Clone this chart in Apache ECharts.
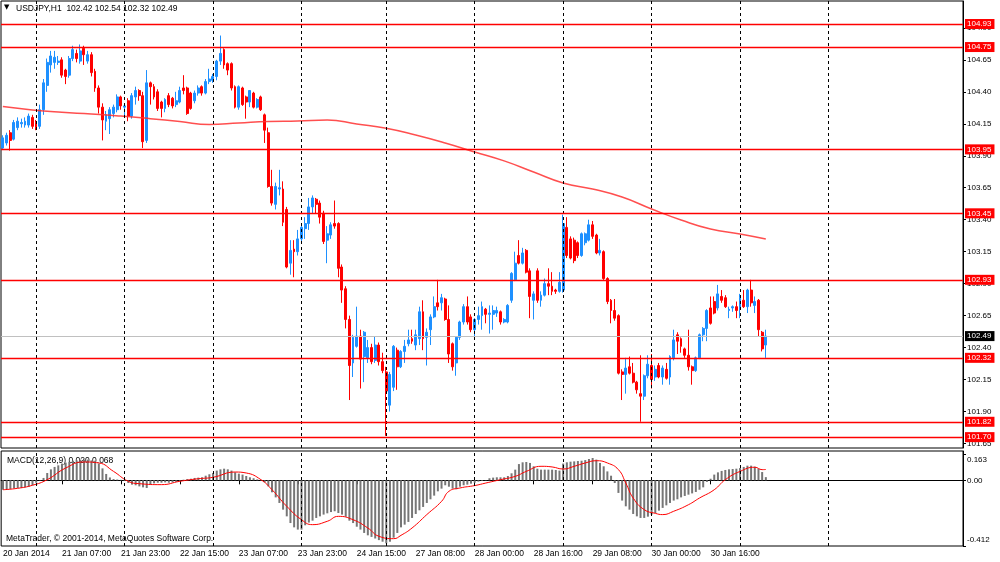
<!DOCTYPE html>
<html>
<head>
<meta charset="utf-8">
<script src="https://cdn.jsdelivr.net/npm/echarts@6/dist/echarts.min.js"></script>
<style>
html, body { margin: 0; padding: 0; background: #fff; }
#main { width: 1000px; height: 562px; }
</style>
</head>
<body>
<div id="main"></div>
<script>
// USDJPY H1 – bars from 20 Jan 15:00 to 31 Jan 07:00
var tickLabels = ['20 Jan 2014', '21 Jan 07:00', '21 Jan 23:00', '22 Jan 15:00', '23 Jan 07:00',
  '23 Jan 23:00', '24 Jan 15:00', '27 Jan 08:00', '28 Jan 00:00', '28 Jan 16:00',
  '29 Jan 08:00', '30 Jan 00:00', '30 Jan 16:00'];
var labelStep = 16;        // one time label every 16 bars
var dayStarts = [9, 33, 57, 81, 104, 128, 152, 176, 200, 224];   // bar index of 00:00 each day
var futureBars = 53;       // empty space right of the last bar

var levels = [104.93, 104.75, 103.95, 103.45, 102.93, 102.32, 101.82, 101.70];
var lastPrice = 102.49;
var priceTicks = [101.65, 101.90, 102.15, 102.40, 102.65, 102.90, 103.15, 103.40, 103.65, 103.90, 104.15, 104.40, 104.65, 104.90];
var macdTicks = [0.163, 0, -0.412];
var macdTickText = ['0.163', '0.00', '-0.412'];

var opens = [
  103.96,104.00,104.08,104.03,104.12,104.15,104.14,104.14,104.20,104.16,
  104.13,104.26,104.45,104.61,104.63,104.63,104.65,104.57,104.53,104.66,
  104.70,104.64,104.74,104.64,104.69,104.56,104.43,104.28,104.17,104.19,
  104.23,104.26,104.36,104.28,104.33,104.21,104.36,104.41,104.37,104.02,
  104.47,104.44,104.40,104.32,104.27,104.37,104.35,104.30,104.32,104.43,
  104.43,104.39,104.33,104.39,104.44,104.39,104.48,104.49,104.52,104.64,
  104.73,104.62,104.62,104.44,104.28,104.43,104.36,104.32,104.39,104.28,
  104.36,104.22,104.08,103.66,103.52,103.64,103.64,103.48,103.06,103.17,
  103.15,103.25,103.33,103.37,103.50,103.56,103.53,103.45,103.24,103.28,
  103.37,103.37,103.03,102.86,102.62,102.28,102.41,102.49,102.33,102.32,
  102.40,102.30,102.42,102.29,102.21,101.95,102.09,102.38,102.25,102.37,
  102.43,102.47,102.42,102.47,102.68,102.48,102.54,102.64,102.75,102.75,
  102.78,102.62,102.43,102.28,102.48,102.60,102.72,102.64,102.54,102.62,
  102.65,102.70,102.66,102.66,102.67,102.68,102.60,102.60,102.77,102.93,
  103.12,103.06,103.16,103.00,102.77,103.00,102.77,102.81,102.90,102.88,
  102.85,102.84,102.85,103.34,103.25,103.24,103.22,103.12,103.22,103.24,
  103.36,103.28,103.14,103.15,102.94,102.77,102.69,102.65,102.21,102.19,
  102.25,102.20,102.13,102.04,102.02,102.18,102.26,102.17,102.26,102.17,
  102.23,102.17,102.32,102.50,102.47,102.39,102.34,102.25,102.22,102.32,
  102.50,102.55,102.71,102.76,102.71,102.80,102.79,102.69,102.71,102.72,
  102.71,102.77,102.72,102.85,102.73,102.77,102.52,102.42
];
var highs = [
  104.06,104.08,104.10,104.18,104.20,104.19,104.20,104.23,104.22,104.18,
  104.30,104.50,104.66,104.72,104.72,104.68,104.67,104.58,104.68,104.76,
  104.73,104.77,104.76,104.72,104.71,104.58,104.45,104.31,104.25,104.28,
  104.30,104.38,104.37,104.31,104.35,104.39,104.44,104.42,104.40,104.57,
  104.48,104.46,104.42,104.33,104.35,104.39,104.36,104.40,104.44,104.53,
  104.44,104.40,104.41,104.45,104.45,104.50,104.58,104.54,104.65,104.84,
  104.74,104.63,104.63,104.45,104.45,104.44,104.37,104.41,104.40,104.35,
  104.37,104.23,104.12,103.79,103.69,103.79,103.70,103.50,103.24,103.24,
  103.32,103.37,103.42,103.57,103.59,103.57,103.55,103.47,103.35,103.38,
  103.55,103.38,103.05,102.88,102.65,102.50,102.72,102.54,102.53,102.46,
  102.43,102.49,102.44,102.36,102.25,102.21,102.42,102.40,102.38,102.46,
  102.54,102.54,102.54,102.72,102.77,102.55,102.66,102.80,102.93,102.82,
  102.79,102.73,102.44,102.49,102.61,102.74,102.80,102.66,102.63,102.72,
  102.76,102.71,102.73,102.73,102.72,102.69,102.63,102.74,102.99,103.15,
  103.24,103.18,103.17,103.02,102.84,103.02,102.84,102.94,103.02,102.99,
  102.86,102.99,103.44,103.42,103.27,103.26,103.23,103.30,103.30,103.40,
  103.39,103.29,103.25,103.16,102.95,102.78,102.78,102.66,102.23,102.32,
  102.33,102.28,102.14,102.34,102.19,102.34,102.35,102.26,102.28,102.26,
  102.28,102.34,102.54,102.52,102.48,102.40,102.54,102.26,102.33,102.51,
  102.56,102.70,102.80,102.80,102.89,102.85,102.81,102.72,102.73,102.76,
  102.82,102.85,102.86,102.93,102.80,102.78,102.53,102.54
];
var lows = [
  103.95,103.98,103.94,104.02,104.10,104.12,104.12,104.12,104.11,104.10,
  104.11,104.22,104.40,104.55,104.58,104.61,104.51,104.46,104.51,104.64,
  104.63,104.62,104.61,104.62,104.52,104.40,104.23,104.02,104.10,104.07,
  104.20,104.24,104.26,104.21,104.17,104.19,104.30,104.33,103.96,104.00,
  104.30,104.34,104.25,104.20,104.24,104.28,104.27,104.28,104.31,104.38,
  104.22,104.26,104.31,104.37,104.37,104.38,104.46,104.47,104.49,104.61,
  104.58,104.53,104.41,104.27,104.26,104.29,104.19,104.28,104.27,104.27,
  104.25,104.00,103.65,103.51,103.48,103.59,103.35,103.02,102.97,102.95,
  103.12,103.22,103.25,103.32,103.45,103.45,103.37,103.21,103.06,103.25,
  103.33,102.95,102.75,102.55,101.99,102.17,102.40,102.08,102.13,102.28,
  102.27,102.28,102.26,102.20,101.71,101.90,102.06,102.07,102.24,102.28,
  102.41,102.43,102.38,102.42,102.38,102.26,102.42,102.63,102.69,102.69,
  102.61,102.28,102.22,102.18,102.46,102.58,102.58,102.52,102.47,102.58,
  102.54,102.59,102.51,102.54,102.64,102.58,102.59,102.59,102.75,102.92,
  103.05,103.05,102.98,102.63,102.62,102.75,102.72,102.80,102.81,102.81,
  102.82,102.83,102.83,103.10,103.09,103.06,103.10,103.11,103.20,103.23,
  103.25,103.13,103.12,102.93,102.74,102.59,102.61,102.19,101.99,102.04,
  102.19,102.12,102.04,101.82,101.99,102.16,102.08,102.14,102.16,102.11,
  102.15,102.11,102.30,102.35,102.36,102.32,102.22,102.11,102.21,102.31,
  102.45,102.45,102.58,102.66,102.69,102.75,102.71,102.63,102.68,102.63,
  102.63,102.71,102.67,102.72,102.67,102.49,102.37,102.32
];
var closes = [
  104.04,104.06,104.02,104.16,104.17,104.16,104.17,104.21,104.13,104.12,
  104.26,104.47,104.63,104.68,104.67,104.64,104.53,104.52,104.66,104.73,
  104.66,104.72,104.69,104.69,104.55,104.43,104.28,104.18,104.22,104.26,
  104.28,104.36,104.29,104.29,104.21,104.37,104.41,104.37,104.01,104.47,
  104.44,104.36,104.27,104.27,104.34,104.30,104.29,104.33,104.41,104.41,
  104.23,104.27,104.39,104.43,104.39,104.48,104.50,104.52,104.64,104.70,
  104.61,104.57,104.43,104.28,104.44,104.30,104.32,104.41,104.28,104.34,
  104.26,104.10,103.66,103.53,103.66,103.65,103.38,103.03,103.16,103.15,
  103.25,103.34,103.37,103.50,103.57,103.52,103.42,103.23,103.29,103.36,
  103.35,103.02,102.85,102.62,102.26,102.48,102.49,102.31,102.52,102.40,
  102.29,102.42,102.29,102.22,102.06,102.19,102.41,102.25,102.37,102.41,
  102.46,102.45,102.50,102.68,102.47,102.52,102.64,102.72,102.72,102.79,
  102.62,102.35,102.25,102.48,102.60,102.72,102.60,102.54,102.62,102.65,
  102.72,102.66,102.67,102.69,102.69,102.60,102.62,102.73,102.98,103.06,
  103.06,103.14,102.99,102.80,102.82,102.77,102.81,102.90,102.88,102.84,
  102.84,102.91,103.37,103.12,103.10,103.08,103.12,103.29,103.29,103.36,
  103.27,103.14,103.16,102.94,102.76,102.69,102.63,102.20,102.19,102.24,
  102.20,102.13,102.07,102.02,102.18,102.27,102.15,102.23,102.17,102.24,
  102.16,102.33,102.46,102.45,102.41,102.34,102.25,102.22,102.32,102.50,
  102.55,102.69,102.59,102.67,102.82,102.77,102.72,102.70,102.72,102.69,
  102.79,102.72,102.85,102.75,102.76,102.54,102.39,102.49
];

// moving average, read every 8 bars: [bar, price]
var maPoints = [[0,104.285],[8,104.258],[16,104.24],[24,104.227],[32,104.21],[40,104.19],[48,104.168],
  [56,104.144],[64,104.156],[72,104.168],[80,104.172],[88,104.18],[96,104.148],[104,104.115],
  [112,104.062],[120,104.0],[128,103.93],[136,103.86],[144,103.773],[152,103.687],[160,103.64],
  [168,103.577],[176,103.484],[184,103.398],[192,103.327],[200,103.288],[207,103.249]];

// MACD(12,26,9) histogram, one value per bar
var macdHist = [
  -0.059,-0.059,-0.054,-0.050,-0.048,-0.048,-0.044,-0.040,-0.031,-0.015,
  -0.002,0.015,0.046,0.069,0.084,0.094,0.105,0.111,0.117,0.123,
  0.125,0.130,0.130,0.130,0.125,0.123,0.105,0.075,0.040,0.018,
  0.008,0.005,0.003,-0.004,-0.017,-0.027,-0.031,-0.038,-0.044,-0.048,
  -0.027,-0.019,-0.015,-0.015,-0.013,-0.015,-0.013,-0.010,-0.004,0.004,
  0.008,0.010,0.015,0.017,0.019,0.029,0.038,0.046,0.061,0.069,
  0.073,0.069,0.061,0.050,0.042,0.036,0.027,0.019,0.013,0.006,
  0.002,-0.013,-0.038,-0.075,-0.107,-0.142,-0.184,-0.226,-0.268,-0.295,
  -0.309,-0.309,-0.282,-0.265,-0.253,-0.236,-0.226,-0.215,-0.207,-0.199,
  -0.194,-0.205,-0.215,-0.228,-0.253,-0.268,-0.291,-0.309,-0.330,-0.345,
  -0.355,-0.365,-0.375,-0.385,-0.395,-0.385,-0.360,-0.330,-0.295,-0.278,
  -0.261,-0.236,-0.211,-0.188,-0.167,-0.142,-0.119,-0.096,-0.069,-0.052,
  -0.031,-0.040,-0.052,-0.056,-0.040,-0.031,-0.027,-0.021,-0.015,-0.008,
  -0.004,0.002,0.013,0.017,0.019,0.019,0.019,0.027,0.044,0.067,
  0.102,0.113,0.115,0.109,0.088,0.073,0.067,0.067,0.067,0.067,
  0.065,0.061,0.105,0.113,0.117,0.119,0.121,0.123,0.127,0.134,
  0.140,0.130,0.109,0.088,0.056,0.029,-0.017,-0.079,-0.127,-0.163,
  -0.184,-0.211,-0.226,-0.236,-0.236,-0.228,-0.215,-0.205,-0.190,-0.173,
  -0.157,-0.142,-0.127,-0.119,-0.107,-0.098,-0.090,-0.082,-0.073,-0.059,
  -0.044,-0.010,0.010,0.036,0.050,0.059,0.065,0.069,0.071,0.073,
  0.077,0.084,0.092,0.092,0.086,0.073,0.052,0.020
];
// signal line, read at a few bars: [bar, value]
var macdSignal = [[0,-0.059],[4,-0.050],[8,-0.031],[12,0.004],[17,0.077],[22,0.115],[26,0.109],
  [30,0.056],[34,-0.006],[37,-0.021],[43,-0.027],[48,-0.006],[53,0.010],[57,0.019],[63,0.052],
  [66,0.046],[70,0.004],[73,-0.059],[77,-0.163],[81,-0.247],[84,-0.278],[88,-0.257],[91,-0.226],
  [95,-0.247],[99,-0.299],[102,-0.351],[106,-0.366],[108,-0.345],[111,-0.299],[115,-0.215],
  [119,-0.132],[121,-0.069],[124,-0.048],[128,-0.033],[131,-0.017],[135,0.004],[139,0.025],
  [142,0.056],[146,0.088],[149,0.084],[152,0.071],[155,0.088],[158,0.109],[161,0.123],[164,0.109],
  [167,0.067],[169,-0.017],[171,-0.111],[174,-0.184],[177,-0.207],[179,-0.215],[182,-0.194],
  [186,-0.153],[189,-0.111],[193,-0.059],[196,0.004],[200,0.056],[204,0.082],[206,0.067],[207,0.068]];

var font = 'Liberation Sans';
var total = opens.length + futureBars;
var cats = [];
for (var i = 0; i < total; i++) cats.push(String(i));
var candles = opens.map(function (o, i) { return [o, closes[i], lows[i], highs[i]]; });

function isLabelBar(i) {
  return i % labelStep === 0 && i / labelStep < tickLabels.length;
}
function priceText(p) { return p.value.toFixed(2); }

var dayLines = dayStarts.map(function (d) {
  return { xAxis: d, lineStyle: { color: '#000', type: [3, 3], width: 1 }, label: { show: false } };
});
var levelLines = levels.map(function (v) {
  return {
    yAxis: v,
    lineStyle: { color: '#ff0000', type: 'solid', width: 1.4, opacity: 1 },
    label: { show: true, position: 'end', distance: 2, formatter: priceText,
      backgroundColor: '#ff0000', color: '#fff', fontFamily: font, fontSize: 8, padding: [1, 3, 1, 2] }
  };
});
var priceLine = {
  yAxis: lastPrice,
  lineStyle: { color: '#c0c0c0', type: 'solid', width: 1 },
  label: { show: true, position: 'end', distance: 2, formatter: priceText,
    backgroundColor: '#000', color: '#fff', fontFamily: font, fontSize: 8, padding: [1, 3, 1, 2] }
};

var myChart = echarts.init(document.getElementById('main'));
var option = {
  animation: false,
  backgroundColor: '#fff',
  grid: [
    { left: 1, right: 37, top: 1, height: 447, show: true, borderColor: '#000', borderWidth: 1 },
    { left: 1, right: 37, top: 451, height: 95, show: true, borderColor: '#000', borderWidth: 1 }
  ],
  xAxis: [
    { type: 'category', gridIndex: 0, data: cats, boundaryGap: true,
      axisLine: { show: false }, axisTick: { show: false }, axisLabel: { show: false }, splitLine: { show: false } },
    { type: 'category', gridIndex: 1, data: cats, boundaryGap: true,
      axisLine: { show: true, lineStyle: { color: '#000' } },
      axisTick: { show: true, alignWithLabel: true, length: 4, lineStyle: { color: '#000' },
        interval: function (i) { return isLabelBar(i); } },
      axisLabel: { show: true, align: 'left', margin: 3, fontFamily: font, fontSize: 8.5, color: '#000',
        interval: function (i) { return isLabelBar(i); },
        formatter: function (v) { return tickLabels[Number(v) / labelStep]; } },
      splitLine: { show: false } }
  ],
  yAxis: [
    { type: 'value', gridIndex: 0, position: 'right', min: 101.615, max: 105.11,
      axisLine: { show: true, lineStyle: { color: '#000' } },
      axisTick: { show: true, customValues: priceTicks, length: 3, lineStyle: { color: '#000' } },
      axisLabel: { show: true, customValues: priceTicks, margin: 4, fontFamily: font, fontSize: 8, color: '#000',
        formatter: function (v) { return v.toFixed(2); } },
      splitLine: { show: false } },
    { type: 'value', gridIndex: 1, position: 'right', min: -0.412, max: 0.184,
      axisLine: { show: true, lineStyle: { color: '#000' } },
      axisTick: { show: true, customValues: macdTicks, length: 3, lineStyle: { color: '#000' } },
      axisLabel: { show: true, customValues: macdTicks, margin: 4, fontFamily: font, fontSize: 8, color: '#000',
        formatter: function (v) {
          if (Math.abs(v - macdTicks[0]) < 1e-6) return '{top|' + macdTickText[0] + '}';
          if (Math.abs(v - macdTicks[2]) < 1e-6) return '{bot|' + macdTickText[2] + '}';
          return macdTickText[1];
        },
        rich: {
          top: { padding: [10, 0, 0, 0], fontFamily: font, fontSize: 8, color: '#000' },
          bot: { padding: [0, 0, 12, 0], fontFamily: font, fontSize: 8, color: '#000' }
        } },
      splitLine: { show: false } }
  ],
  series: [
    {
      name: 'USDJPY,H1', type: 'candlestick', xAxisIndex: 0, yAxisIndex: 0,
      data: candles, barWidth: 2.4,
      itemStyle: { color: '#1e90ff', color0: '#ff0000', borderColor: '#1e90ff', borderColor0: '#ff0000', borderWidth: 1 },
      markLine: { silent: true, symbol: ['none', 'none'], animation: false, data: dayLines }
    },
    {
      name: 'Levels', type: 'line', xAxisIndex: 0, yAxisIndex: 0, data: [], z: 4,
      markLine: { silent: true, symbol: ['none', 'none'], animation: false,
        lineStyle: { color: '#ff0000', type: 'solid' },
        data: levelLines.concat([priceLine]) }
    },
    {
      name: 'MA', type: 'line', xAxisIndex: 0, yAxisIndex: 0, data: maPoints,
      showSymbol: false, smooth: true, silent: true,
      lineStyle: { color: '#ff3030', width: 1.5, opacity: 0.85 }, z: 3
    },
    {
      name: 'MACD', type: 'bar', xAxisIndex: 1, yAxisIndex: 1, data: macdHist,
      barWidth: 2, itemStyle: { color: '#767676' }, silent: true,
      markLine: { silent: true, symbol: ['none', 'none'], animation: false, data: dayLines }
    },
    {
      name: 'Signal', type: 'line', xAxisIndex: 1, yAxisIndex: 1, data: macdSignal,
      showSymbol: false, smooth: true, silent: true,
      lineStyle: { color: '#ff0000', width: 1 }, z: 3
    }
  ],
  graphic: [
    { type: 'text', left: 4, top: 4, style: { text: '\u25BC', fontFamily: 'DejaVu Sans', fontSize: 7, fill: '#000' } },
    { type: 'text', left: 16, top: 4, style: { text: 'USDJPY,H1  102.42 102.54 102.32 102.49', fontFamily: font, fontSize: 8.5, fill: '#000' } },
    { type: 'text', left: 7, top: 456, style: { text: 'MACD(12,26,9) 0.020 0.068', fontFamily: font, fontSize: 8.5, fill: '#000' } },
    { type: 'text', left: 6, top: 534, style: { text: 'MetaTrader, \u00A9 2001-2014, MetaQuotes Software Corp.', fontFamily: font, fontSize: 8.5, fill: '#000' } }
  ]
};
myChart.setOption(option);
</script>
</body>
</html>
